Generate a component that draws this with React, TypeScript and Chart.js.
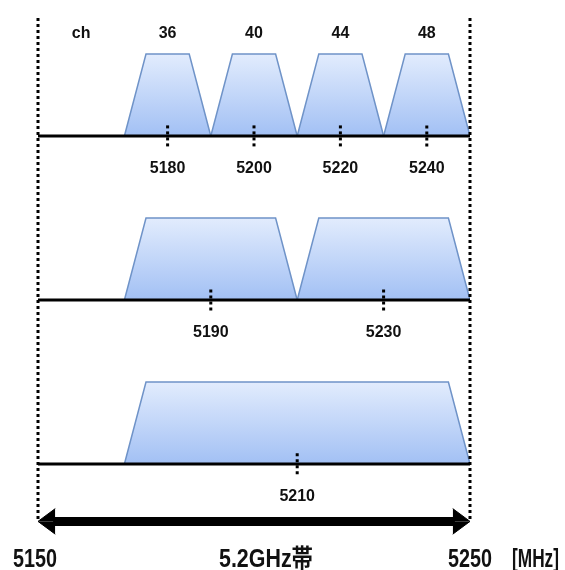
import React, { useEffect, useRef } from "react";
import { Chart, registerables } from "chart.js";

Chart.register(...registerables);

// ---- data ----
const bandStart = 5150;
const bandEnd = 5250;
const bandName = "5.2GHz帯";
const unitLabel = "[MHz]";
const chHeader = "ch";
const channelNumbers = ["36", "40", "44", "48"];
const centers20 = [5180, 5200, 5220, 5240];
const centers40 = [5190, 5230];
const centers80 = [5210];
const rowCenters = [centers20, centers40, centers80];
const rowWidths = [20, 40, 80];
const rowBases = [2, 1, 0];
const shoulder = 5;
const trapH = 0.5;
const tickHalf = 0.065;
const arrowY = -0.35;
const topY = 2.72;
const minY = -0.5;

const FILL_TOP = "#e2ecfd";
const FILL_BOT = "#a2c0f4";
const EDGE = "#6f93c8";

function gradientFor(base: number) {
  return (c: any) => {
    const chart = c.chart;
    const { ctx, chartArea, scales } = chart;
    if (!chartArea || !scales.y) return FILL_BOT;
    const yTop = scales.y.getPixelForValue(base + trapH);
    const yBot = scales.y.getPixelForValue(base);
    const g = ctx.createLinearGradient(0, yTop, 0, yBot);
    g.addColorStop(0, FILL_TOP);
    g.addColorStop(1, FILL_BOT);
    return g;
  };
}

function buildDatasets() {
  const ticks: any[] = [];
  const baselines: any[] = [];
  const traps: any[] = [];
  rowCenters.forEach((cs, r) => {
    const base = rowBases[r];
    const half = rowWidths[r] / 2;
    baselines.push({
      data: [
        { x: bandStart, y: base },
        { x: bandEnd, y: base },
      ],
      borderColor: "#000",
      borderWidth: 3,
      pointRadius: 0,
      fill: false,
    });
    cs.forEach((c) => {
      ticks.push({
        data: [
          { x: c, y: base + tickHalf },
          { x: c, y: base - tickHalf },
        ],
        borderColor: "#000",
        borderWidth: 3,
        borderDash: [3, 3],
        pointRadius: 0,
        fill: false,
      });
      traps.push({
        data: [
          { x: c - half, y: base },
          { x: c - half + shoulder, y: base + trapH },
          { x: c + half - shoulder, y: base + trapH },
          { x: c + half, y: base },
        ],
        borderColor: EDGE,
        borderWidth: 1.5,
        backgroundColor: gradientFor(base),
        pointRadius: 0,
        fill: { value: base },
      });
    });
  });
  const verticals = [bandStart, bandEnd].map((x) => ({
    data: [
      { x, y: topY },
      { x, y: arrowY },
    ],
    borderColor: "#000",
    borderWidth: 3,
    borderDash: [3, 3],
    pointRadius: 0,
    fill: false,
    clip: false,
  }));
  const headLen = 4.0;
  const headW = 0.078;
  const arrow = {
    data: [
      { x: bandStart + headLen - 0.5, y: arrowY },
      { x: bandEnd - headLen + 0.5, y: arrowY },
    ],
    borderColor: "#000",
    borderWidth: 9,
    pointRadius: 0,
    fill: false,
    clip: false,
  };
  const heads: any[] = [];
  [
    [bandStart, bandStart + headLen],
    [bandEnd, bandEnd - headLen],
  ].forEach(([tip, back]) => {
    [1, -1].forEach((s) => {
      const pts = [
        { x: tip, y: arrowY },
        { x: back, y: arrowY + s * headW },
      ];
      heads.push({
        data: tip < back ? pts : pts.slice().reverse(),
        borderColor: "#000",
        borderWidth: 1,
        backgroundColor: "#000",
        pointRadius: 0,
        fill: { value: arrowY },
        clip: false,
      });
    });
  });
  return [...ticks, ...baselines, ...verticals, arrow, ...heads, ...traps];
}

const labelPlugin = {
  id: "labels",
  afterDatasetsDraw(chart: any) {
    const { ctx, scales } = chart;
    const xs = scales.x;
    const ys = scales.y;
    ctx.save();
    ctx.fillStyle = "#111";
    ctx.textAlign = "center";
    ctx.textBaseline = "alphabetic";
    ctx.font = 'bold 16px "Liberation Sans", Arial, sans-serif';
    // channel header row
    const chY = ys.getPixelForValue(rowBases[0] + trapH) - 16;
    ctx.fillText(chHeader, xs.getPixelForValue(5160), chY);
    centers20.forEach((c, i) => {
      ctx.fillText(channelNumbers[i], xs.getPixelForValue(c), chY);
    });
    // center frequency labels
    rowCenters.forEach((cs, r) => {
      const y = ys.getPixelForValue(rowBases[r]) + 37;
      cs.forEach((c) => ctx.fillText(String(c), xs.getPixelForValue(c), y));
    });
    // bottom labels
    const by = 567;
    ctx.font = 'bold 25px "Liberation Sans", "Noto Sans CJK JP", sans-serif';
    ctx.fillText(String(bandStart), xs.getPixelForValue(bandStart) - 3, by, 44);
    ctx.fillText(String(bandEnd), xs.getPixelForValue(bandEnd), by, 44);
    ctx.fillText(bandName, xs.getPixelForValue(5200) + 12, by, 94);
    ctx.textAlign = "left";
    ctx.fillText(unitLabel, xs.getPixelForValue(bandEnd) + 42, by, 47);
    ctx.restore();
  },
};

export default function App() {
  const ref = useRef<HTMLCanvasElement | null>(null);
  useEffect(() => {
    if (!ref.current) return;
    const chart = new Chart(ref.current, {
      type: "line",
      data: { datasets: buildDatasets() as any },
      options: {
        responsive: false,
        animation: false,
        events: [],
        devicePixelRatio: 1,
        layout: { padding: { left: 38, right: 95, top: 18, bottom: 24 } },
        elements: { line: { tension: 0 } },
        plugins: {
          legend: { display: false },
          tooltip: { enabled: false },
        },
        scales: {
          x: { type: "linear", min: bandStart, max: bandEnd, display: false },
          y: { type: "linear", min: minY, max: topY, display: false },
        },
      },
      plugins: [labelPlugin],
    });
    return () => chart.destroy();
  }, []);
  return (
    <div style={{ position: "fixed", left: 0, top: 0, width: 565, height: 570, background: "#fff" }}>
      <canvas ref={ref} width={565} height={570} style={{ display: "block" }} />
    </div>
  );
}
